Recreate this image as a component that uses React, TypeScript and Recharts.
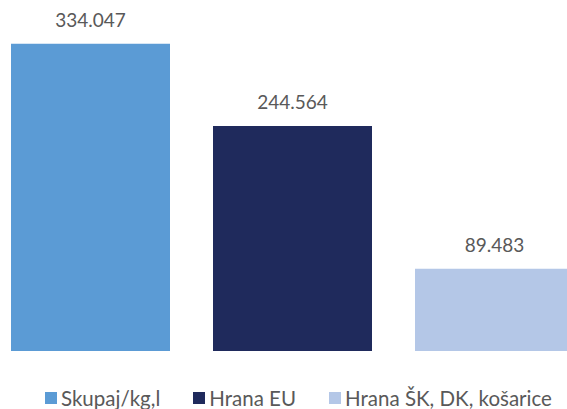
import React from 'react';
import { BarChart, Bar, XAxis, YAxis, Legend, LabelList } from 'recharts';

const categories = ['Ukupno'];
const seriesNames = ['Skupaj/kg,l', 'Hrana EU', 'Hrana ŠK, DK, košarice'];
const seriesKeys = ['skupaj', 'hranaEU', 'hranaSK'];
const seriesValues = [334.047, 244.564, 89.483];
const colors = ['#5B9BD5', '#1F2A5C', '#B4C7E7'];

const data = categories.map((c) => {
  const row: Record<string, any> = { name: c };
  seriesKeys.forEach((k, i) => {
    row[k] = seriesValues[i];
  });
  return row;
});

const FONT = 'Lato, "Open Sans", sans-serif';

const fmt = (v: any) => Number(v).toFixed(3);

const CustomLegend = () => (
  <div
    style={{
      display: 'flex',
      justifyContent: 'flex-start',
      alignItems: 'center',
      fontFamily: FONT,
      fontSize: 20.5,
      color: '#595959',
      gap: 33,
      height: 24,
      width: 567,
      paddingLeft: 45,
      boxSizing: 'border-box',
      whiteSpace: 'nowrap',
    }}
  >
    {seriesNames.map((n, i) => (
      <div key={n} style={{ display: 'flex', alignItems: 'center' }}>
        <span
          style={{
            display: 'inline-block',
            width: 12,
            height: 12,
            background: colors[i],
            marginRight: 4,
          }}
        />
        <span>{n}</span>
      </div>
    ))}
  </div>
);

export default function App() {
  return (
    <div style={{ position: 'absolute', left: 0, top: 0, width: 567, height: 409, overflow: 'hidden', background: '#fff' }}>
      <BarChart
        width={591}
        height={409}
        data={data}
        margin={{ top: 29, right: 17, left: 10, bottom: 10 }}
        barGap={43}
        barCategoryGap={0}
      >
        <XAxis dataKey="name" hide />
        <YAxis hide domain={[0, 350]} />
        <Legend
          verticalAlign="bottom"
          height={48}
          content={() => <CustomLegend />}
          wrapperStyle={{ left: 0, width: 567, top: 386, bottom: 'auto' }}
        />
        {seriesKeys.map((k, i) => (
          <Bar key={k} dataKey={k} name={seriesNames[i]} fill={colors[i]} barSize={159} isAnimationActive={false}>
            <LabelList
              dataKey={k}
              position="top"
              offset={17}
              formatter={fmt}
              style={{ fontFamily: FONT, fontSize: 19, fill: '#595959' }}
            />
          </Bar>
        ))}
      </BarChart>
    </div>
  );
}
